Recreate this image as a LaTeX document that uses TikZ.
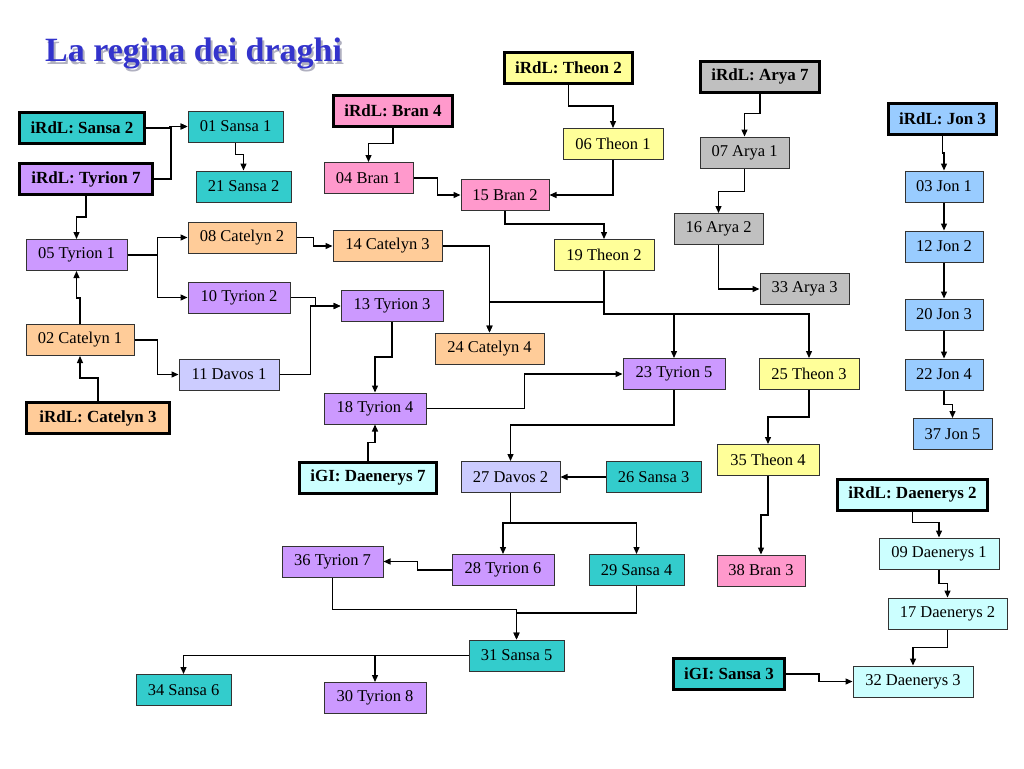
\documentclass[tikz,border=0pt]{standalone}
\usepackage{fontspec}
\setmainfont{Liberation Serif}
\usepackage{xcolor}
\usetikzlibrary{arrows.meta}
\definecolor{vteal}{HTML}{33CCCC}
\definecolor{vpurple}{HTML}{CC99FF}
\definecolor{vpeach}{HTML}{FFCC99}
\definecolor{vpink}{HTML}{FF99CC}
\definecolor{vyellow}{HTML}{FFFF99}
\definecolor{vgray}{HTML}{C0C0C0}
\definecolor{vsky}{HTML}{99CCFF}
\definecolor{vlilac}{HTML}{CCCCFF}
\definecolor{vice}{HTML}{CCFFFF}
\definecolor{vtitle}{HTML}{3333CC}
\definecolor{vshadow}{HTML}{B0B0C0}
\definecolor{vline}{HTML}{333333}

\tikzset{
  chap/.style={draw=vline, line width=1pt, minimum height=31pt, inner sep=1pt, font=\fontsize{16.5}{18}\selectfont},
  book/.style={draw=black, line width=3pt, minimum height=31pt, inner sep=1pt, font=\fontsize{17}{19}\selectfont\bfseries},
  link/.style={draw=black, line width=1.3pt, -{Triangle[length=7pt,width=6pt]}},
}

\begin{document}
\begin{tikzpicture}[x=1pt, y=-1pt]
		\useasboundingbox[fill=white] (0,0) rectangle (1024,768);
		% title
		\node[anchor=base west, text=vshadow, font=\fontsize{34}{40}\selectfont\bfseries, inner sep=0pt] (shadow) at (47,64) {La regina dei draghi};
		\node[anchor=base west, text=vtitle, font=\fontsize{34}{40}\selectfont\bfseries, inner sep=0pt] (title) at (45,62) {La regina dei draghi};
		% left column
		\node[book, fill=vteal, minimum width=125pt] (rS2) at (82,128) {iRdL: Sansa 2};
		\node[book, fill=vpurple, minimum width=133pt] (rT7) at (86,179) {iRdL: Tyrion 7};
		\node[chap, fill=vteal, minimum width=95pt] (s1) at (235.5,126.5) {01 Sansa 1};
		\node[chap, fill=vteal, minimum width=95pt] (s2) at (243.5,186.5) {21 Sansa 2};
		\node[chap, fill=vpurple, minimum width=101pt] (t1) at (76.5,255) {05 Tyrion 1};
		\node[chap, fill=vpeach, minimum width=108pt] (c2) at (242,237.5) {08 Catelyn 2};
		\node[chap, fill=vpurple, minimum width=102pt] (t2) at (239,297.5) {10 Tyrion 2};
		\node[chap, fill=vpeach, minimum width=108pt] (c1) at (80,340) {02 Catelyn 1};
		\node[chap, fill=vlilac, minimum width=100pt] (d1) at (229,374.5) {11 Davos 1};
		\node[book, fill=vpeach, minimum width=143pt] (rC3) at (98,418) {iRdL: Catelyn 3};
		% middle
		\node[book, fill=vpink, minimum width=119pt] (rB4) at (393,110.5) {iRdL: Bran 4};
		\node[chap, fill=vpink, minimum width=89pt] (b1) at (368.5,178) {04 Bran 1};
		\node[chap, fill=vpeach, minimum width=109pt] (c3) at (387.5,246) {14 Catelyn 3};
		\node[chap, fill=vpurple, minimum width=102pt] (t3) at (392,306) {13 Tyrion 3};
		\node[chap, fill=vpurple, minimum width=102pt] (t4) at (375,408.5) {18 Tyrion 4};
		\node[chap, fill=vpeach, minimum width=109pt] (c4) at (489.5,348.5) {24 Catelyn 4};
		\node[book, fill=vyellow, minimum width=128pt] (rTh2) at (568.5,68) {iRdL: Theon 2};
		\node[chap, fill=vyellow, minimum width=100pt] (th1) at (613,144) {06 Theon 1};
		\node[chap, fill=vpink, minimum width=88pt] (b2) at (505,195) {15 Bran 2};
		\node[chap, fill=vyellow, minimum width=100pt] (th2) at (604,255) {19 Theon 2};
		\node[chap, fill=vpurple, minimum width=102pt] (t5) at (674,374) {23 Tyrion 5};
		\node[chap, fill=vyellow, minimum width=100pt] (th3) at (809,374) {25 Theon 3};
		\node[chap, fill=vlilac, minimum width=99pt] (d2) at (510.5,477) {27 Davos 2};
		\node[chap, fill=vteal, minimum width=95pt] (s3) at (653.5,477) {26 Sansa 3};
		\node[chap, fill=vyellow, minimum width=102pt] (th4) at (768,460) {35 Theon 4};
		\node[book, fill=vice, minimum width=137pt] (gD7) at (368,477.5) {iGI: Daenerys 7};
		% Arya and Jon
		\node[book, fill=vgray, minimum width=119pt] (rA7) at (760,76.5) {iRdL: Arya 7};
		\node[chap, fill=vgray, minimum width=89pt] (a1) at (744.5,152.5) {07 Arya 1};
		\node[chap, fill=vgray, minimum width=89pt] (a2) at (718.5,229) {16 Arya 2};
		\node[chap, fill=vgray, minimum width=89pt] (a3) at (804.5,289) {33 Arya 3};
		\node[book, fill=vsky, minimum width=108pt] (rJ3) at (942.5,119) {iRdL: Jon 3};
		\node[chap, fill=vsky, minimum width=78pt] (j1) at (944,186.5) {03 Jon 1};
		\node[chap, fill=vsky, minimum width=78pt] (j2) at (944,246.5) {12 Jon 2};
		\node[chap, fill=vsky, minimum width=78pt] (j3) at (944,314.5) {20 Jon 3};
		\node[chap, fill=vsky, minimum width=78pt] (j4) at (944,374.5) {22 Jon 4};
		\node[chap, fill=vsky, minimum width=79pt] (j5) at (952.5,434) {37 Jon 5};
		% bottom
		\node[chap, fill=vpurple, minimum width=101pt] (t7) at (332.5,561.5) {36 Tyrion 7};
		\node[chap, fill=vpurple, minimum width=102pt] (t6) at (503,570) {28 Tyrion 6};
		\node[chap, fill=vteal, minimum width=95pt] (s4) at (636.5,570) {29 Sansa 4};
		\node[chap, fill=vpink, minimum width=88pt] (br3) at (761,570.5) {38 Bran 3};
		\node[chap, fill=vteal, minimum width=95pt] (s5) at (516.5,655.5) {31 Sansa 5};
		\node[chap, fill=vteal, minimum width=95pt] (s6) at (183.5,690) {34 Sansa 6};
		\node[chap, fill=vpurple, minimum width=102pt] (t8) at (375,698) {30 Tyrion 8};
		\node[book, fill=vice, minimum width=150pt] (rD2) at (912.5,494.5) {iRdL: Daenerys 2};
		\node[chap, fill=vice, minimum width=120pt] (dy1) at (939,553.5) {09 Daenerys 1};
		\node[chap, fill=vice, minimum width=119pt] (dy2) at (947.5,613.5) {17 Daenerys 2};
		\node[chap, fill=vice, minimum width=120pt] (dy3) at (913,681.5) {32 Daenerys 3};
		\node[book, fill=vteal, minimum width=111pt] (gS3) at (729,674) {iGI: Sansa 3};
		% links
		\draw[link] (rS2.east) -- ++(24,0) |- (s1.west);
		\draw[link] (rT7.east) -- ++(17,0) |- (s1.west);
		\draw[link] (s1.south) -- ++(0,12) -| (s2.north);
		\draw[link] (rT7.south) -- ++(0,21) -| (t1.north);
		\draw[link] (t1.east) -- ++(30,0) |- (c2.west);
		\draw[link] (t1.east) -- ++(30,0) |- (t2.west);
		\draw[link] (c2.east) -- ++(17,0) |- (c3.west);
		\draw[link] (t2.east) -- ++(25,0) |- (t3.west);
		\draw[link] (d1.east) -- ++(31,0) |- (t3.west);
		\draw[link] (c1.north) -- ++(0,-26) -| (t1.south);
		\draw[link] (rC3.north) -- ++(0,-23) -| (c1.south);
		\draw[link] (c1.east) -- ++(23,0) |- (d1.west);
		\draw[link] (rB4.south) -- ++(0,16) -| (b1.north);
		\draw[link] (b1.east) -- ++(24,0) |- (b2.west);
		\draw[link] (rTh2.south) -- ++(0,21) -| (th1.north);
		\draw[link] (th1.south) |- (b2.east);
		\draw[link] (b2.south) -- ++(0,13) -| (th2.north);
		\draw[link] (th2.south) -- ++(0,31) -| (c4.north);
		\draw[link] (c3.east) -| (c4.north);
		\draw[link] (th2.south) -- ++(0,43) -| (t5.north);
		\draw[link] (th2.south) -- ++(0,43) -| (th3.north);
		\draw[link] (th3.south) -- ++(0,27) -| (th4.north);
		\draw[link] (th4.south) -- ++(0,39) -| (br3.north);
		\draw[link] (t3.south) -- ++(0,35) -| (t4.north);
		\draw[link] (gD7.north) -- ++(0,-18) -| (t4.south);
		\draw[link] (t4.east) -- ++(98,0) |- (t5.west);
		\draw[link] (t5.south) -- ++(0,35) -| (d2.north);
		\draw[link] (s3.west) -- (d2.east);
		\draw[link] (d2.south) -- ++(0,30) -| (t6.north);
		\draw[link] (d2.south) -- ++(0,30) -| (s4.north);
		\draw[link] (t6.west) -- ++(-34,0) |- (t7.east);
		\draw[link] (t7.south) -- ++(0,32) -| (s5.north);
		\draw[link] (s4.south) -- ++(0,27) -| (s5.north);
		\draw[link] (s5.west) -| (s6.north);
		\draw[link] (s5.west) -| (t8.north);
		\draw[link] (rA7.south) -- ++(0,20) -| (a1.north);
		\draw[link] (a1.south) -- ++(0,23) -| (a2.north);
		\draw[link] (a2.south) |- (a3.west);
		\draw[link] (rJ3.south) -- ++(0,17) -| (j1.north);
		\draw[link] (j1.south) -- (j2.north);
		\draw[link] (j2.south) -- (j3.north);
		\draw[link] (j3.south) -- (j4.north);
		\draw[link] (j4.south) -- ++(0,14) -| (j5.north);
		\draw[link] (rD2.south) -- ++(0,11) -| (dy1.north);
		\draw[link] (dy1.south) -- ++(0,14) -| (dy2.north);
		\draw[link] (dy2.south) -- ++(0,18) -| (dy3.north);
		\draw[link] (gS3.east) -- ++(33,0) |- (dy3.west);
	\end{tikzpicture}
\end{document}
